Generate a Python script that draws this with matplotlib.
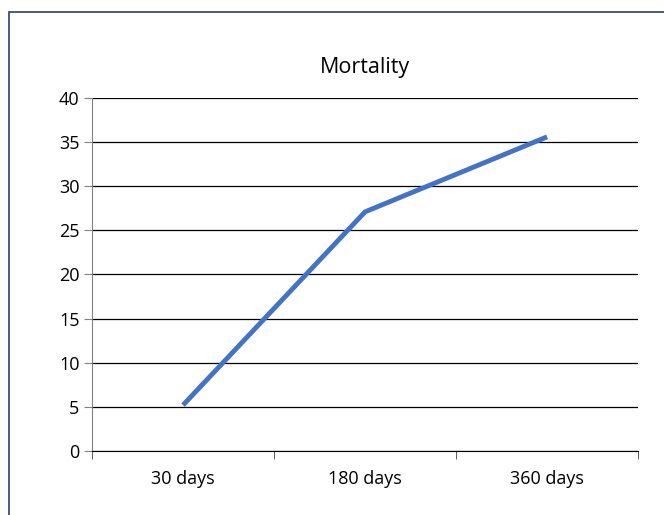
import matplotlib
matplotlib.use('Agg')
import matplotlib.pyplot as plt
from matplotlib.patches import Rectangle

plt.rcParams['font.family'] = ['Open Sans', 'DejaVu Sans']

categories = ['30 days', '180 days', '360 days']
mortality = [5.2, 27.1, 35.6]
y_ticks = [0, 5, 10, 15, 20, 25, 30, 35, 40]

fig = plt.figure(figsize=(6.64, 5.15), dpi=100)
ax = fig.add_axes([0.1386, 0.1243, 0.8224, 0.6854])

# outer frame
fig.patches.append(Rectangle((9 / 664, -0.1), 1.2, 1.1 - 12 / 515,
                             transform=fig.transFigure, fill=False,
                             edgecolor='#2f3d6b', linewidth=1.2))

x = list(range(len(categories)))
ax.plot(x, mortality, color='#4472C4', linewidth=3.5, solid_capstyle='butt')

ax.set_xlim(-0.5, len(categories) - 0.5)
ax.set_ylim(0, 40)
ax.set_yticks(y_ticks)
ax.set_xticks(x)
ax.set_xticklabels(categories)
ax.set_xticks([i - 0.5 for i in range(len(categories) + 1)], minor=True)
ax.tick_params(axis='x', which='major', length=0, pad=14, labelsize=13)
ax.tick_params(axis='x', which='minor', length=6, color='#444444', direction='out')
ax.tick_params(axis='y', length=6, color='#808080', labelsize=13, pad=3)

ax.grid(axis='y', color='black', linewidth=0.9)
ax.set_axisbelow(True)
for s in ['top', 'right']:
    ax.spines[s].set_visible(False)
ax.spines['left'].set_color('#808080')
ax.spines['bottom'].set_color('black')

ax.set_title('Mortality', fontsize=15.5, pad=18)

fig.savefig('out.png', dpi=100)
